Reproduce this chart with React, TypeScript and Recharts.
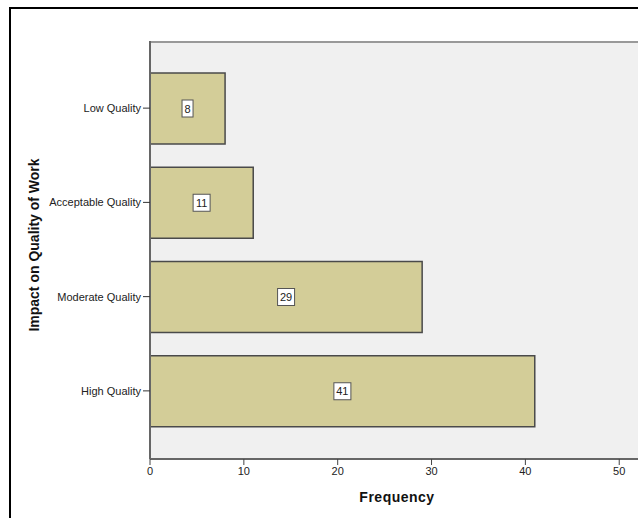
import { Bar, BarChart, CartesianGrid, LabelList, XAxis, YAxis } from "recharts"

const categories = ["Low Quality", "Acceptable Quality", "Moderate Quality", "High Quality"]
const frequencies = [8, 11, 29, 41]
const xTicks = [0, 10, 20, 30, 40, 50]

const data = categories.map((name, i) => ({ name, count: frequencies[i] }))

const FONT = "Arial, 'Liberation Sans', sans-serif"

// white boxed value label sitting in the middle of each bar
function ValueBox(props: any) {
  const { x, y, width, height, value } = props
  const text = String(value)
  const w = text.length > 1 ? 17 : 11
  const h = 17
  const cx = x + width / 2
  const cy = y + height / 2
  return (
    <g>
      <rect x={cx - w / 2} y={cy - h / 2} width={w} height={h} fill="#ffffff" stroke="#555555" strokeWidth={1} />
      <text x={cx} y={cy + 4} textAnchor="middle" fontSize={11} fontFamily={FONT} fill="#222222">
        {text}
      </text>
    </g>
  )
}

export default function App() {
  return (
    <div style={{ position: "absolute", left: 0, top: 0, width: 638, height: 518, overflow: "hidden", background: "#fff" }}>
      <div
        style={{
          position: "absolute",
          left: 9,
          top: 7,
          width: 660,
          height: 540,
          borderLeft: "2px solid #000",
          borderTop: "2px solid #000",
        }}
      />
      <div style={{ position: "absolute", left: 0, top: 0 }}>
        <BarChart
          width={638}
          height={518}
          data={data}
          layout="vertical"
          margin={{ top: 41, right: 0, bottom: 0, left: 0 }}
          barSize={71}
        >
          {/* grey plot background with its top frame line */}
          <CartesianGrid
            vertical={false}
            horizontalPoints={[42]}
            stroke="#999999"
            strokeWidth={2}
            fill="#f0f0f0"
          />
          <XAxis
            type="number"
            domain={[0, 52]}
            ticks={xTicks}
            allowDataOverflow
            height={59}
            axisLine={{ stroke: "#666666", strokeWidth: 2 }}
            tickLine={{ stroke: "#444444" }}
            tickSize={6}
            tick={{ fontSize: 11, fontFamily: FONT, fill: "#222222" }}
            label={{
              value: "Frequency",
              position: "insideBottom",
              offset: 16,
              dx: 3,
              style: { fontSize: 14, fontWeight: "bold", fontFamily: FONT, fill: "#111111", letterSpacing: 0.5 },
            }}
          />
          <YAxis
            type="category"
            dataKey="name"
            width={150}
            padding={{ top: 20, bottom: 21 }}
            axisLine={{ stroke: "#666666", strokeWidth: 2 }}
            tickLine={{ stroke: "#333333" }}
            tickSize={7}
            tick={{ fontSize: 11, fontFamily: FONT, fill: "#222222" }}
            label={{
              value: "Impact on Quality of Work",
              angle: -90,
              position: "insideLeft",
              offset: 34,
              dy: -5,
              style: { fontSize: 14, fontWeight: "bold", fontFamily: FONT, fill: "#111111", textAnchor: "middle" },
            }}
          />
          <Bar dataKey="count" fill="#d3cd98" stroke="#4a4a4a" strokeWidth={1.5} isAnimationActive={false}>
            <LabelList dataKey="count" content={<ValueBox />} />
          </Bar>
        </BarChart>
      </div>
    </div>
  )
}
